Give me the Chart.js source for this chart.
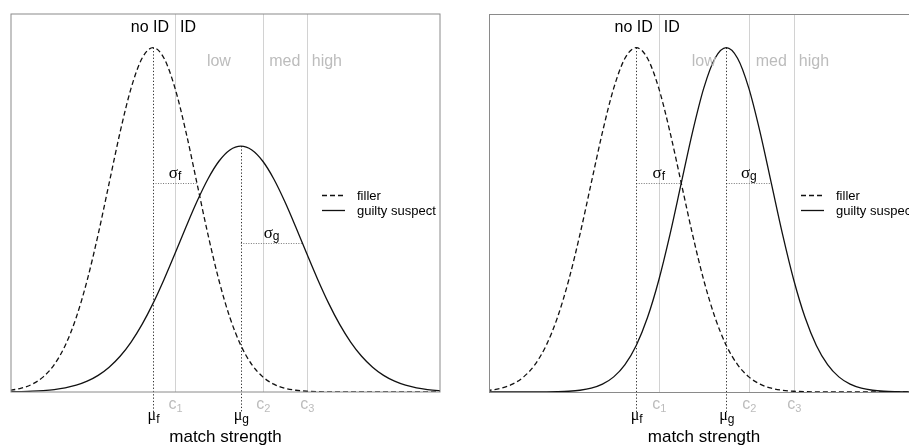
<!DOCTYPE html>
<html><head><meta charset="utf-8">
<script src="https://cdn.jsdelivr.net/npm/chart.js@4.4.1/dist/chart.umd.min.js"></script>
<style>
html,body{margin:0;padding:0;background:#fff;width:909px;height:446px;overflow:hidden;position:relative}
.panel{position:absolute;top:0;width:455px;height:446px}
canvas{display:block}
</style></head><body>
<div class="panel" style="left:0"><canvas id="cv1" width="455" height="446"></canvas></div>
<div class="panel" style="left:478px"><canvas id="cv2" width="455" height="446"></canvas></div>
<script>
// match strength grid (x values)
const matchStrength = [-3.5,-3.25,-3,-2.75,-2.5,-2.25,-2,-1.75,-1.5,-1.25,-1,-0.75,-0.5,-0.25,0,0.25,0.5,0.75,1,1.25,1.5,1.75,2,2.25,2.5,2.75,3,3.25,3.5,3.75,4,4.25,4.5,4.75,5,5.25,5.5,5.75,6,6.25,6.5,6.75];
// filler density (both panels)
const fillerDensity = [0.00087,0.00203,0.00443,0.00909,0.01753,0.03174,0.05399,0.08628,0.12952,0.18265,0.24197,0.30114,0.35207,0.38667,0.39894,0.38667,0.35207,0.30114,0.24197,0.18265,0.12952,0.08628,0.05399,0.03174,0.01753,0.00909,0.00443,0.00203,0.00087,0.00035,0.00013,0.00005,0.00002,0.00001,0,0,0,0,0,0,0,0];
// guilty suspect density, left panel (wider)
const guiltyDensityLeft = [0.00013,0.00025,0.00048,0.00090,0.00163,0.00284,0.00481,0.00788,0.01252,0.01925,0.02869,0.04139,0.05786,0.07833,0.10271,0.13046,0.16051,0.19128,0.22078,0.24687,0.26736,0.28045,0.28496,0.28045,0.26736,0.24687,0.22078,0.19128,0.16051,0.13046,0.10271,0.07833,0.05786,0.04139,0.02869,0.01925,0.01252,0.00788,0.00481,0.00284,0.00163,0.00090];
// guilty suspect density, right panel (narrower)
const guiltyDensityRight = [0,0,0,0.000005,0.000016,0.00005,0.00013,0.00035,0.00087,0.00203,0.00443,0.00909,0.01753,0.03174,0.05399,0.08628,0.12952,0.18265,0.24197,0.30114,0.35207,0.38667,0.39894,0.38667,0.35207,0.30114,0.24197,0.18265,0.12952,0.08628,0.05399,0.03174,0.01753,0.00909,0.00443,0.00203,0.00087,0.00035,0.00013,0.00005,0.00002,0.00001];

const cutoffs = [0.5, 2.5, 3.5];
const cutoffSubs = ['1','2','3'];
const decisionLabels = ['no ID','ID'];
const confidenceLabels = ['low','med','high'];
const seriesLabels = ['filler','guilty suspect'];
const meanSubs = ['f','g'];
const meansLeft = [0, 2];
const sdsLeft = [1, 1.4];
const sigmaLevelsLeft = [0.242, 0.173];
const meansRight = [0, 2];
const sdsRight = [1, 1];
const sigmaLevelsRight = [0.242, 0.242];
const xLabel = 'match strength';

const SANS = '"Liberation Sans", Arial, Helvetica, sans-serif';
const SERIF = '"Liberation Serif", "DejaVu Serif", serif';
const GREY = '#bcbcbc';

function drawSub(ctx, main, mainFont, sub, subFont, cx, baseMain, baseSub, color){
  ctx.save();
  ctx.fillStyle = color;
  ctx.textAlign = 'left';
  ctx.textBaseline = 'alphabetic';
  ctx.font = mainFont; const w1 = ctx.measureText(main).width;
  ctx.font = subFont; const w2 = ctx.measureText(sub).width;
  const x0 = cx - (w1 + w2) / 2;
  ctx.font = mainFont; ctx.fillText(main, x0, baseMain);
  ctx.font = subFont; ctx.fillText(sub, x0 + w1, baseSub);
  ctx.restore();
}

function makePlugin(p){
  return {
    id: 'ann' + p.id,
    beforeDatasetsDraw(chart){
      const ctx = chart.ctx, a = chart.chartArea, xs = chart.scales.x, ys = chart.scales.y;
      ctx.save();
      ctx.lineWidth = 1;
      ctx.strokeStyle = '#d2d2d2';
      cutoffs.forEach(c => {
        const px = Math.round(xs.getPixelForValue(c)) + 0.5;
        ctx.beginPath(); ctx.moveTo(px, a.top); ctx.lineTo(px, a.bottom); ctx.stroke();
      });
      // sigma segments
      ctx.strokeStyle = '#777';
      ctx.setLineDash([1, 1.5]);
      p.means.forEach((m, i) => {
        const yy = Math.round(ys.getPixelForValue(p.sigmaLevels[i])) + 0.5;
        ctx.beginPath();
        ctx.moveTo(xs.getPixelForValue(m), yy);
        ctx.lineTo(xs.getPixelForValue(m + p.sds[i]), yy);
        ctx.stroke();
      });
      // mean lines
      ctx.strokeStyle = '#333';
      ctx.setLineDash([1.3, 2]);
      p.means.forEach((m, i) => {
        const peak = Math.max(...p.series[i]);
        const px = Math.round(xs.getPixelForValue(m)) + 0.5;
        ctx.beginPath();
        ctx.moveTo(px, ys.getPixelForValue(peak));
        ctx.lineTo(px, a.bottom + 20);
        ctx.stroke();
      });
      ctx.restore();
    },
    afterDatasetsDraw(chart){
      const ctx = chart.ctx, a = chart.chartArea, xs = chart.scales.x, ys = chart.scales.y;
      const X = v => xs.getPixelForValue(v);
      ctx.save();
      // box
      ctx.strokeStyle = '#8a8a8a';
      ctx.lineWidth = 1;
      const o = p.off;
      ctx.strokeRect(a.left + o, a.top + o, a.right - a.left, a.bottom - a.top);
      // decision labels
      ctx.font = '16px ' + SANS;
      ctx.fillStyle = '#000';
      ctx.textBaseline = 'alphabetic';
      ctx.textAlign = 'right';
      ctx.fillText(decisionLabels[0], X(cutoffs[0]) - 6, a.top + 18);
      ctx.textAlign = 'left';
      ctx.fillText(decisionLabels[1], X(cutoffs[0]) + 5, a.top + 18);
      // confidence labels
      ctx.fillStyle = GREY;
      ctx.textAlign = 'center';
      ctx.fillText(confidenceLabels[0], (X(cutoffs[0]) + X(cutoffs[1])) / 2, a.top + 52);
      ctx.fillText(confidenceLabels[1], (X(cutoffs[1]) + X(cutoffs[2])) / 2, a.top + 52);
      ctx.textAlign = 'left';
      ctx.fillText(confidenceLabels[2], X(cutoffs[2]) + 5, a.top + 52);
      // cutoff labels
      cutoffs.forEach((c, i) => {
        drawSub(ctx, 'c', '16px ' + SANS, cutoffSubs[i], '11px ' + SANS, X(c) + 0.5, a.bottom + 17, a.bottom + 20, GREY);
      });
      // mean labels
      p.means.forEach((m, i) => {
        drawSub(ctx, 'μ', '16px ' + SERIF, meanSubs[i], '12px ' + SANS, X(m) + 0.5, a.bottom + 28, a.bottom + 31, '#000');
      });
      // sigma labels
      p.means.forEach((m, i) => {
        const yy = ys.getPixelForValue(p.sigmaLevels[i]);
        drawSub(ctx, 'σ', '17px ' + SERIF, meanSubs[i], '12px ' + SANS, X(m + p.sds[i] / 2), yy - 5, yy - 3, '#000');
      });
      // legend
      const lx = a.right - 118, tx = a.right - 83;
      const ly = [a.top + 181.5, a.top + 196.5];
      ctx.strokeStyle = '#111';
      ctx.lineWidth = 1.3;
      ctx.setLineDash([5, 3]);
      ctx.beginPath(); ctx.moveTo(lx, ly[0]); ctx.lineTo(lx + 23, ly[0]); ctx.stroke();
      ctx.setLineDash([]);
      ctx.beginPath(); ctx.moveTo(lx, ly[1]); ctx.lineTo(lx + 23, ly[1]); ctx.stroke();
      ctx.font = '13px ' + SANS;
      ctx.fillStyle = '#000';
      ctx.textAlign = 'left';
      ctx.fillText(seriesLabels[0], tx, ly[0] + 4.5);
      ctx.fillText(seriesLabels[1], tx, ly[1] + 4);
      // x label
      ctx.font = '17px ' + SANS;
      ctx.textAlign = 'center';
      ctx.fillText(xLabel, (a.left + a.right) / 2, a.bottom + 50);
      ctx.restore();
    }
  };
}

function build(id, p){
  const pts = arr => matchStrength.map((x, i) => ({x: x, y: arr[i]}));
  new Chart(document.getElementById(id), {
    type: 'line',
    data: {
      datasets: [
        {label: seriesLabels[0], data: pts(p.series[0]), borderColor: '#111', borderWidth: 1.3, borderDash: [5, 3], pointRadius: 0, cubicInterpolationMode: 'monotone', fill: false},
        {label: seriesLabels[1], data: pts(p.series[1]), borderColor: '#111', borderWidth: 1.3, pointRadius: 0, cubicInterpolationMode: 'monotone', fill: false}
      ]
    },
    options: {
      responsive: false,
      animation: false,
      devicePixelRatio: 1,
      layout: {padding: p.pad},
      plugins: {legend: {display: false}, tooltip: {enabled: false}},
      scales: {
        x: {type: 'linear', min: p.xmin, max: p.xmax, display: false},
        y: {type: 'linear', min: 0, max: 0.438, display: false}
      }
    },
    plugins: [makePlugin(p)]
  });
}

build('cv1', {id: 1, series: [fillerDensity, guiltyDensityLeft], means: meansLeft, sds: sdsLeft, sigmaLevels: sigmaLevelsLeft,
  xmin: -3.235, xmax: 6.535, pad: {left: 11, right: 15, top: 14, bottom: 54}, off: 0});
build('cv2', {id: 2, series: [fillerDensity, guiltyDensityRight], means: meansRight, sds: sdsRight, sigmaLevels: sigmaLevelsRight,
  xmin: -3.27, xmax: 6.28, pad: {left: 11, right: 14, top: 14, bottom: 54}, off: 0.5});
</script>
</body></html>
